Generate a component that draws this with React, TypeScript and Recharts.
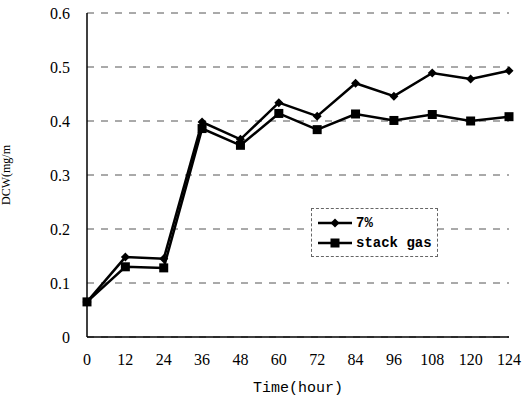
import React from 'react'
import { LineChart, Line, XAxis, YAxis, CartesianGrid } from 'recharts'

if (typeof document !== 'undefined') document.body.style.margin = '0'

const hours = ['0', '12', '24', '36', '48', '60', '72', '84', '96', '108', '120', '124']
const pct7 = [0.065, 0.148, 0.145, 0.398, 0.366, 0.434, 0.409, 0.47, 0.446, 0.489, 0.478, 0.493]
const stackGas = [0.065, 0.13, 0.128, 0.386, 0.355, 0.414, 0.384, 0.413, 0.401, 0.412, 0.4, 0.408]
const yTicks = [0, 0.1, 0.2, 0.3, 0.4, 0.5, 0.6]

const data = hours.map((h, i) => ({ hour: h, pct7: pct7[i], stack: stackGas[i] }))

const Diamond = (props: any) => {
    const { cx, cy } = props
    if (cx == null || cy == null) return null
    const r = 4.5
    return <path d={`M${cx},${cy - r}L${cx + r},${cy}L${cx},${cy + r}L${cx - r},${cy}Z`} fill="#000" />
}

const Square = (props: any) => {
    const { cx, cy } = props
    if (cx == null || cy == null) return null
    const s = 4.5
    return <rect x={cx - s} y={cy - s} width={s * 2} height={s * 2} fill="#000" />
}

const LegendBox = () => (
    <div style={{
        position: 'absolute',
        left: 311,
        top: 208,
        border: '1px dashed #666',
        width: 127,
        height: 49,
        boxSizing: 'border-box',
        padding: '4px 0 0 6px',
        fontFamily: "'Liberation Mono', monospace",
        fontSize: 14,
        fontWeight: 'bold',
        background: '#fff',
    }}>
        {[{ name: '7%', Mark: Diamond }, { name: 'stack gas', Mark: Square }].map(({ name, Mark }) => (
            <div key={name} style={{ display: 'flex', alignItems: 'center', height: 20 }}>
                <svg width={34} height={12} style={{ marginRight: 4 }}>
                    <line x1={0} y1={6} x2={34} y2={6} stroke="#000" strokeWidth={2.5} />
                    <Mark cx={17} cy={6} />
                </svg>
                <span>{name}</span>
            </div>
        ))}
    </div>
)

export default function App() {
    const tickStyle = { fill: '#000', fontSize: 16, fontFamily: "'Liberation Serif', serif" }
    return (
        <div style={{ width: 532, height: 400, background: '#fff', position: 'relative' }}>
            <LineChart width={532} height={400} data={data} margin={{ top: 13, right: 23, bottom: 0, left: 0 }}>
                <CartesianGrid vertical={false} stroke="#555" strokeDasharray="7 7" />
                <XAxis
                    dataKey="hour"
                    scale="point"
                    padding={{ left: 0, right: 0 }}
                    interval={0}
                    height={63}
                    tick={tickStyle}
                    tickLine={false}
                    tickSize={6}
                    tickMargin={11}
                    axisLine={{ stroke: '#000', strokeWidth: 1.5 }}
                    label={{ value: 'Time(hour)', position: 'insideBottom', offset: 8, fill: '#000', fontSize: 15, fontFamily: "'Liberation Mono', monospace" }}
                />
                <XAxis xAxisId="top" orientation="top" dataKey="hour" height={0} tick={false} tickLine={false} axisLine={{ stroke: '#000', strokeWidth: 1.5 }} />
                <YAxis
                    domain={[0, 0.6]}
                    ticks={yTicks}
                    width={87}
                    tick={tickStyle}
                    tickLine={false}
                    tickSize={6}
                    tickMargin={11}
                    tickFormatter={(v: number) => (v === 0 ? '0' : v.toFixed(1))}
                    axisLine={{ stroke: '#000', strokeWidth: 1.5 }}
                    label={{ value: 'DCW(mg/m', angle: -90, position: 'insideLeft', offset: 6, fill: '#000', fontSize: 12, fontFamily: "'Liberation Serif', serif", style: { textAnchor: 'middle' } }}
                />
                <YAxis yAxisId="right" orientation="right" width={0} tick={false} tickLine={false} axisLine={{ stroke: '#000', strokeWidth: 1.5 }} />
                <Line type="linear" dataKey="pct7" stroke="#000" strokeWidth={2.5} dot={<Diamond />} activeDot={false} isAnimationActive={false} />
                <Line type="linear" dataKey="stack" stroke="#000" strokeWidth={2.5} dot={<Square />} activeDot={false} isAnimationActive={false} />
            </LineChart>
            <LegendBox />
        </div>
    )
}
